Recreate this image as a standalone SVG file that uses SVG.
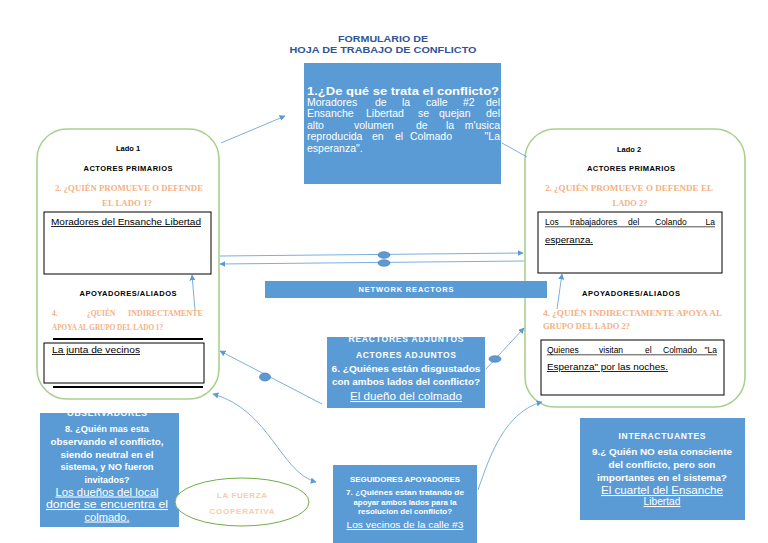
<svg xmlns="http://www.w3.org/2000/svg" width="768" height="543" viewBox="0 0 768 543">
<defs>
<style>
text{font-family:"Liberation Sans",Arial,sans-serif}
.bx{fill:#5b9bd5}
.w{fill:#fff}
.wb{fill:#fff;font-weight:bold}
.con{stroke:#5b9bd5;stroke-width:0.8;fill:none}
.dot{fill:#5b9bd5;stroke:#41719c;stroke-width:0.6}
.lado{fill:#fff;stroke:#a9d18e;stroke-width:1.6}
.or{fill:#f4b183;font-family:"Liberation Serif",serif;font-weight:bold;font-size:7.5px}
.hd{font-weight:bold;font-size:7.5px;fill:#000}
.ans{font-size:8.5px;fill:#000}
.ul{text-decoration:underline}
.ulk{stroke:#000;stroke-width:0.7}
.ib{fill:#fff;stroke:#000;stroke-width:1}
.j{font-size:10.5px;fill:#fff}
</style>
<marker id="ah" viewBox="0 0 10 10" refX="9" refY="5" markerWidth="6" markerHeight="6" orient="auto-start-reverse" markerUnits="userSpaceOnUse">
<path d="M0,0 L10,5 L0,10 z" fill="#5b9bd5"/>
</marker>
<clipPath id="cObs"><rect x="40" y="413" width="139" height="114"/></clipPath>
<clipPath id="cRea"><rect x="327" y="337" width="158" height="71"/></clipPath>
</defs>
<rect width="768" height="543" fill="#fff"/>

<g id="title">
<text x="383" y="42" text-anchor="middle" font-size="9.5" font-weight="bold" fill="#2f5597" textLength="90" lengthAdjust="spacingAndGlyphs">FORMULARIO DE</text>
<text x="383" y="53" text-anchor="middle" font-size="9.5" font-weight="bold" fill="#2f5597" textLength="187" lengthAdjust="spacingAndGlyphs">HOJA DE TRABAJO DE CONFLICTO</text>
</g>

<g id="lado1">
<rect class="lado" x="37" y="129" width="182" height="270" rx="30"/>
<text class="hd" x="128" y="151" text-anchor="middle">Lado 1</text>
<text class="hd" x="128" y="171" text-anchor="middle" textLength="89">ACTORES PRIMARIOS</text>
<text class="or" x="129" y="191" text-anchor="middle" textLength="148" lengthAdjust="spacingAndGlyphs">2. ¿QUIÉN PROMUEVE O DEFENDE</text>
<text class="or" x="127" y="206" text-anchor="middle" textLength="50" lengthAdjust="spacingAndGlyphs">EL LADO 1?</text>
<rect class="ib" x="44" y="212" width="167" height="62"/>
<text class="ans ul" x="51" y="225" textLength="150" lengthAdjust="spacingAndGlyphs">Moradores del Ensanche Libertad</text>
<text class="hd" x="128" y="296" text-anchor="middle" textLength="97">APOYADORES/ALIADOS</text>
<text class="or" x="52" y="316">4.</text>
<text class="or" x="87" y="316">¿QUIÉN</text>
<text class="or" x="128" y="316" textLength="75" lengthAdjust="spacingAndGlyphs">INDIRECTAMENTE</text>
<text class="or" x="52" y="330" textLength="111" lengthAdjust="spacingAndGlyphs">APOYA AL GRUPO DEL LADO 1?</text>
<line x1="53" y1="339" x2="203" y2="339" stroke="#000" stroke-width="2"/>
<rect class="ib" x="44" y="343" width="160" height="40"/>
<line x1="53" y1="387" x2="203" y2="387" stroke="#000" stroke-width="2"/>
<text class="ans ul" x="52" y="353" textLength="88" lengthAdjust="spacingAndGlyphs">La junta de vecinos</text>
</g>

<g id="lado2">
<rect class="lado" x="525" y="129" width="220" height="278" rx="30"/>
<text class="hd" x="629" y="152" text-anchor="middle">Lado 2</text>
<text class="hd" x="631" y="171" text-anchor="middle" textLength="88">ACTORES PRIMARIOS</text>
<text class="or" x="545" y="191" textLength="168" lengthAdjust="spacingAndGlyphs">2. ¿QUIÉN PROMUEVE O DEFENDE EL</text>
<text class="or" x="630" y="206" text-anchor="middle" textLength="35" lengthAdjust="spacingAndGlyphs">LADO 2?</text>
<rect class="ib" x="538" y="212" width="184" height="61"/>
<text class="ans" y="225"><tspan x="545">Los</tspan><tspan x="570">trabajadores</tspan><tspan x="628">del</tspan><tspan x="655">Colando</tspan></text>
<text class="ans" x="715" y="225" text-anchor="end">La</text>
<line class="ulk" x1="545" y1="226.8" x2="715" y2="226.8"/>
<text class="ans ul" x="545" y="243" textLength="48" lengthAdjust="spacingAndGlyphs">esperanza.</text>
<text class="hd" x="631" y="296" text-anchor="middle" textLength="98">APOYADORES/ALIADOS</text>
<text class="or" x="543" y="316" textLength="179" lengthAdjust="spacingAndGlyphs">4. ¿QUIÉN INDIRECTAMENTE APOYA AL</text>
<text class="or" x="543" y="329" textLength="87" lengthAdjust="spacingAndGlyphs">GRUPO DEL LADO 2?</text>
<rect class="ib" x="541" y="340" width="183" height="55"/>
<text class="ans" y="353"><tspan x="547">Quienes</tspan><tspan x="599">visitan</tspan><tspan x="645">el</tspan><tspan x="663">Colmado</tspan></text>
<text class="ans" x="717" y="353" text-anchor="end">"La</text>
<line class="ulk" x1="547" y1="354.8" x2="717" y2="354.8"/>
<text class="ans ul" x="547" y="370" textLength="121" lengthAdjust="spacingAndGlyphs">Esperanza" por las noches.</text>
</g>

<g id="conflicto">
<rect class="bx" x="304" y="63" width="197" height="121"/>
<text class="wb" x="307" y="95" font-size="10.5" textLength="192" lengthAdjust="spacingAndGlyphs">1.¿De qué se trata el conflicto?</text>
<text class="j" y="106"><tspan x="307">Moradores</tspan><tspan x="375">de</tspan><tspan x="402">la</tspan><tspan x="426">calle</tspan><tspan x="463">#2</tspan></text>
<text class="j" x="500" y="106" text-anchor="end">del</text>
<text class="j" y="117.4"><tspan x="307">Ensanche</tspan><tspan x="366">Libertad</tspan><tspan x="418">se</tspan><tspan x="439">quejan</tspan></text>
<text class="j" x="500" y="117.4" text-anchor="end">del</text>
<text class="j" y="128.8"><tspan x="307">alto</tspan><tspan x="354">volumen</tspan><tspan x="416">de</tspan><tspan x="446">la</tspan></text>
<text class="j" x="500" y="128.8" text-anchor="end">m'usica</text>
<text class="j" y="140.2"><tspan x="307">reproducida</tspan><tspan x="372">en</tspan><tspan x="395">el</tspan><tspan x="410">Colmado</tspan></text>
<text class="j" x="500" y="140.2" text-anchor="end">"La</text>
<text class="j" x="307" y="151.6">esperanza".</text>
</g>

<g id="network">
<rect class="bx" x="265" y="281" width="282" height="17"/>
<text class="wb" x="406" y="292" text-anchor="middle" font-size="7.5" textLength="95">NETWORK REACTORS</text>
</g>

<g id="reactores">
<rect class="bx" x="327" y="337" width="158" height="71"/>
<text class="wb" x="406" y="342" text-anchor="middle" font-size="8.5" clip-path="url(#cRea)" textLength="115">REACTORES ADJUNTOS</text>
<text class="wb" x="406" y="358" text-anchor="middle" font-size="8.5" textLength="100">ACTORES ADJUNTOS</text>
<text class="wb" x="406" y="372" text-anchor="middle" font-size="8.5" textLength="149" lengthAdjust="spacingAndGlyphs">6. ¿Quiénes están disgustados</text>
<text class="wb" x="406" y="385" text-anchor="middle" font-size="8.5" textLength="148" lengthAdjust="spacingAndGlyphs">con ambos lados del conflicto?</text>
<text class="w ul" x="406" y="400" text-anchor="middle" font-size="10.5" textLength="112" lengthAdjust="spacingAndGlyphs">El dueño del colmado</text>
</g>

<g id="observadores">
<rect class="bx" x="40" y="413" width="139" height="114"/>
<text class="wb" x="107" y="416" text-anchor="middle" font-size="8.5" clip-path="url(#cObs)" textLength="80">OBSERVADORES</text>
<text class="wb" x="107" y="432" text-anchor="middle" font-size="9" textLength="84" lengthAdjust="spacingAndGlyphs">8. ¿Quién mas esta</text>
<text class="wb" x="107" y="445" text-anchor="middle" font-size="9" textLength="113" lengthAdjust="spacingAndGlyphs">observando el conflicto,</text>
<text class="wb" x="107" y="457.5" text-anchor="middle" font-size="9" textLength="93" lengthAdjust="spacingAndGlyphs">siendo neutral en el</text>
<text class="wb" x="107" y="470" text-anchor="middle" font-size="9" textLength="93" lengthAdjust="spacingAndGlyphs">sistema, y NO fueron</text>
<text class="wb" x="107" y="482.5" text-anchor="middle" font-size="9" textLength="45" lengthAdjust="spacingAndGlyphs">invitados?</text>
<text class="w ul" x="107" y="495.5" text-anchor="middle" font-size="10.5" textLength="103" lengthAdjust="spacingAndGlyphs">Los dueños del local</text>
<text class="w ul" x="107" y="508" text-anchor="middle" font-size="10.5" textLength="122" lengthAdjust="spacingAndGlyphs">donde se encuentra el</text>
<text class="w ul" x="107" y="520.5" text-anchor="middle" font-size="10.5" textLength="45" lengthAdjust="spacingAndGlyphs">colmado.</text>
</g>

<g id="fuerza">
<ellipse cx="242" cy="502" rx="67" ry="24" fill="#fff" stroke="#70ad47" stroke-width="1"/>
<text x="242" y="498" text-anchor="middle" font-size="8" font-weight="bold" fill="#f8cbad" textLength="50">LA FUERZA</text>
<text x="242" y="514" text-anchor="middle" font-size="8" font-weight="bold" fill="#f8cbad" textLength="65">COOPERATIVA</text>
</g>

<g id="seguidores">
<rect class="bx" x="333" y="465" width="144" height="78"/>
<text class="wb" x="405" y="482" text-anchor="middle" font-size="8" textLength="110" lengthAdjust="spacingAndGlyphs">SEGUIDORES APOYADORES</text>
<text class="wb" x="405" y="495" text-anchor="middle" font-size="8" textLength="118" lengthAdjust="spacingAndGlyphs">7. ¿Quiénes estan tratando de</text>
<text class="wb" x="405" y="504.5" text-anchor="middle" font-size="8" textLength="103" lengthAdjust="spacingAndGlyphs">apoyar ambos lados para la</text>
<text class="wb" x="405" y="514" text-anchor="middle" font-size="8" textLength="94" lengthAdjust="spacingAndGlyphs">resolucion del conflicto?</text>
<text class="w ul" x="405" y="528" text-anchor="middle" font-size="9" textLength="117" lengthAdjust="spacingAndGlyphs">Los vecinos de la calle #3</text>
</g>

<g id="interactuantes">
<rect class="bx" x="580" y="418" width="165" height="102"/>
<text class="wb" x="662" y="439" text-anchor="middle" font-size="8.5" textLength="87">INTERACTUANTES</text>
<text class="wb" x="662" y="455" text-anchor="middle" font-size="8.5" textLength="140" lengthAdjust="spacingAndGlyphs">9.¿ Quién NO esta consciente</text>
<text class="wb" x="662" y="468" text-anchor="middle" font-size="8.5" textLength="107" lengthAdjust="spacingAndGlyphs">del conflicto, pero son</text>
<text class="wb" x="662" y="481" text-anchor="middle" font-size="8.5" textLength="130" lengthAdjust="spacingAndGlyphs">importantes en el sistema?</text>
<text class="w ul" x="662" y="494" text-anchor="middle" font-size="10.5" textLength="122" lengthAdjust="spacingAndGlyphs">El cuartel del Ensanche</text>
<text class="w ul" x="662" y="505" text-anchor="middle" font-size="10.5" textLength="37" lengthAdjust="spacingAndGlyphs">Libertad</text>
</g>

<g id="connectors">
<line class="con" x1="221" y1="143" x2="285" y2="116" marker-end="url(#ah)"/>
<line class="con" x1="502" y1="143" x2="527" y2="157"/>
<line class="con" x1="220" y1="256" x2="523" y2="253" marker-end="url(#ah)"/>
<line class="con" x1="524" y1="261" x2="220" y2="264" marker-end="url(#ah)"/>
<ellipse class="dot" cx="384" cy="255" rx="6" ry="3.3"/>
<ellipse class="dot" cx="384" cy="263" rx="6" ry="3.3"/>
<line class="con" x1="195" y1="310" x2="192" y2="275" marker-end="url(#ah)"/>
<line class="con" x1="557" y1="309" x2="562" y2="274" marker-end="url(#ah)"/>
<line class="con" x1="322" y1="404" x2="220" y2="351" marker-end="url(#ah)"/>
<ellipse class="dot" cx="265" cy="377" rx="5.5" ry="4"/>
<line class="con" x1="486" y1="369" x2="524" y2="328" marker-end="url(#ah)"/>
<ellipse class="dot" cx="495" cy="359" rx="6" ry="3.3"/>
<path class="con" d="M 213,394 C 270,410 280,472 316,482" marker-start="url(#ah)" marker-end="url(#ah)"/>
<path class="con" d="M 478,490 C 490,455 505,412 542,402" marker-end="url(#ah)"/>
</g>
</svg>
